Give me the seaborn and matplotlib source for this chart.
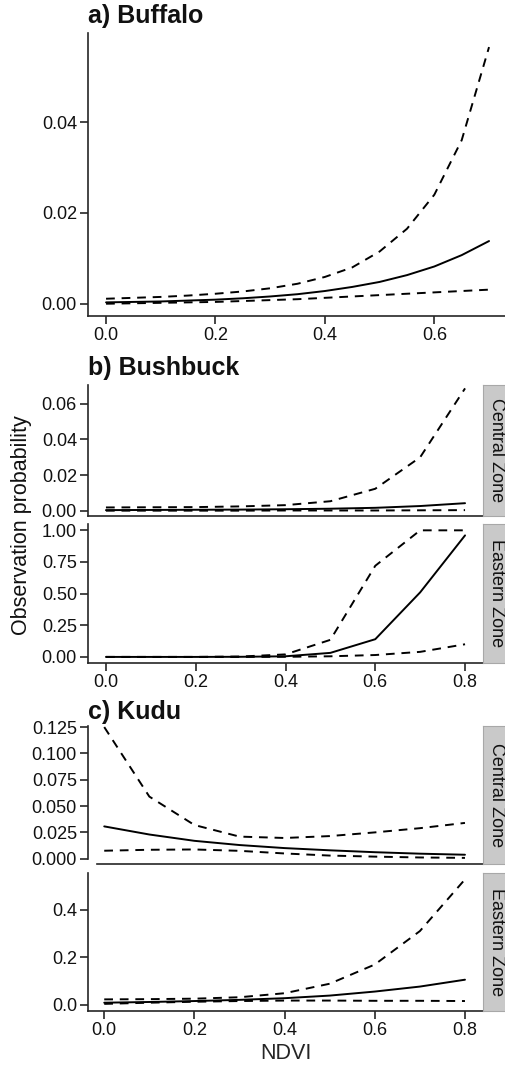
""" Observation probability against NDVI for buffalo, bushbuck and kudu """
import numpy as np
import pandas as pd
import matplotlib
matplotlib.use('Agg')
import matplotlib.pyplot as plt
import seaborn as sns

# a) Buffalo
buffalo_ndvi = [0.0, 0.05, 0.1, 0.15, 0.2, 0.25, 0.3, 0.35, 0.4, 0.45, 0.5, 0.55, 0.6, 0.65, 0.7]
buffalo_fit = [0.0003, 0.0004, 0.0005, 0.0007, 0.0009, 0.0012, 0.0016, 0.0021, 0.0028,
               0.0037, 0.0048, 0.0063, 0.0082, 0.0107, 0.0138]
buffalo_upper = [0.0011, 0.0013, 0.0015, 0.0018, 0.0022, 0.0027, 0.0034, 0.0044, 0.0059,
                 0.0080, 0.0115, 0.0165, 0.0240, 0.0360, 0.0565]
buffalo_lower = [0.0000, 0.0001, 0.0002, 0.0003, 0.0004, 0.0006, 0.0008, 0.0010, 0.0013,
                 0.0016, 0.0019, 0.0022, 0.0025, 0.0028, 0.0031]

# b) Bushbuck, central and eastern zone
bushbuck_ndvi = [0.0, 0.1, 0.2, 0.3, 0.4, 0.5, 0.6, 0.7, 0.8]
bushbuck_central_fit = [0.0003, 0.0004, 0.0005, 0.0006, 0.0008, 0.0011, 0.0016, 0.0026, 0.0042]
bushbuck_central_upper = [0.0018, 0.0019, 0.0020, 0.0024, 0.0031, 0.0053, 0.0123, 0.0300, 0.0687]
bushbuck_central_lower = [0.0000, 0.0000, 0.0000, 0.0000, 0.0001, 0.0001, 0.0001, 0.0002, 0.0003]
bushbuck_eastern_fit = [0.0, 0.0, 0.0, 0.001, 0.005, 0.032, 0.14, 0.51, 0.96]
bushbuck_eastern_upper = [0.0, 0.0, 0.0, 0.003, 0.02, 0.135, 0.72, 1.0, 1.0]
bushbuck_eastern_lower = [0.0, 0.0, 0.0, 0.0, 0.001, 0.005, 0.015, 0.04, 0.10]

# c) Kudu, central and eastern zone
kudu_ndvi = [0.0, 0.1, 0.2, 0.3, 0.4, 0.5, 0.6, 0.7, 0.8]
kudu_central_fit = [0.0307, 0.0230, 0.0170, 0.0130, 0.0101, 0.0080, 0.0062, 0.0048, 0.0038]
kudu_central_upper = [0.125, 0.059, 0.032, 0.021, 0.0197, 0.0215, 0.025, 0.029, 0.034]
kudu_central_lower = [0.0076, 0.0085, 0.0088, 0.0075, 0.0050, 0.0030, 0.0020, 0.0012, 0.0008]
kudu_eastern_fit = [0.008, 0.011, 0.015, 0.020, 0.027, 0.038, 0.055, 0.076, 0.105]
kudu_eastern_upper = [0.022, 0.023, 0.025, 0.031, 0.048, 0.088, 0.169, 0.31, 0.528]
kudu_eastern_lower = [0.003, 0.008, 0.012, 0.015, 0.017, 0.017, 0.016, 0.016, 0.015]

W, H = 505, 1071
FONT = ['Liberation Sans', 'DejaVu Sans']
sns.set_style('ticks')
plt.rcParams['font.family'] = FONT
plt.rcParams['axes.linewidth'] = 1.2
plt.rcParams['xtick.major.width'] = 1.2
plt.rcParams['ytick.major.width'] = 1.2
plt.rcParams['xtick.major.size'] = 5.5
plt.rcParams['ytick.major.size'] = 5.5
plt.rcParams['xtick.major.pad'] = 2.5
plt.rcParams['ytick.major.pad'] = 2.5
plt.rcParams['xtick.labelsize'] = 13
plt.rcParams['ytick.labelsize'] = 13
plt.rcParams['text.color'] = '#111111'
plt.rcParams['xtick.labelcolor'] = '#111111'
plt.rcParams['ytick.labelcolor'] = '#111111'

fig = plt.figure(figsize=(W / 100, H / 100), dpi=100)


def box(left, top, right, bottom):
    """ Pixel box to figure fraction """
    return [left / W, 1 - bottom / H, (right - left) / W, (bottom - top) / H]


def draw(ax, x, fit, upper, lower):
    df = pd.DataFrame({'NDVI': x, 'fit': fit, 'upper': upper, 'lower': lower})
    sns.lineplot(data=df, x='NDVI', y='fit', ax=ax, color='black', lw=1.4)
    for col in ['upper', 'lower']:
        sns.lineplot(data=df, x='NDVI', y=col, ax=ax, color='black', lw=1.4)
        ax.lines[-1].set_dashes((4.5, 3.5))
    ax.set_xlabel('')
    ax.set_ylabel('')
    sns.despine(ax=ax)


def strip(top, bottom, label):
    sax = fig.add_axes(box(483, top, 507, bottom))
    sax.set_facecolor('#c9c9c9')
    for s in sax.spines.values():
        s.set_visible(True)
        s.set_color('#a8a8a8')
        s.set_linewidth(0.8)
    sax.set_xticks([])
    sax.set_yticks([])
    sax.text(0.55, 0.5, label, rotation=-90, ha='center', va='center',
             fontsize=13, transform=sax.transAxes)


# a) Buffalo
ax = fig.add_axes(box(88, 33, 506, 316))
draw(ax, buffalo_ndvi, buffalo_fit, buffalo_upper, buffalo_lower)
ax.set_xlim(-0.033, 0.731)
ax.set_ylim(-0.0027, 0.0596)
ax.set_xticks([0.0, 0.2, 0.4, 0.6])
ax.set_yticks([0.0, 0.02, 0.04])
ax.set_yticklabels(['0.00', '0.02', '0.04'])
fig.text(88 / W, 1 - 16 / H, 'a) Buffalo', fontsize=18, fontweight='bold',
         va='center', ha='left')

# b) Bushbuck
ax = fig.add_axes(box(88, 385, 483, 516))
draw(ax, bushbuck_ndvi, bushbuck_central_fit, bushbuck_central_upper, bushbuck_central_lower)
ax.set_xlim(-0.04, 0.84)
ax.set_ylim(-0.0030, 0.0706)
ax.set_xticks([])
ax.set_yticks([0.0, 0.02, 0.04, 0.06])
ax.set_yticklabels(['0.00', '0.02', '0.04', '0.06'])
strip(385, 516, 'Central Zone')

ax = fig.add_axes(box(88, 524, 483, 663))
draw(ax, bushbuck_ndvi, bushbuck_eastern_fit, bushbuck_eastern_upper, bushbuck_eastern_lower)
ax.set_xlim(-0.04, 0.84)
ax.set_ylim(-0.048, 1.05)
ax.set_xticks([0.0, 0.2, 0.4, 0.6, 0.8])
ax.set_yticks([0.0, 0.25, 0.5, 0.75, 1.0])
ax.set_yticklabels(['0.00', '0.25', '0.50', '0.75', '1.00'])
strip(524, 663, 'Eastern Zone')
fig.text(88 / W, 1 - 368 / H, 'b) Bushbuck', fontsize=18, fontweight='bold',
         va='center', ha='left')
fig.text(22 / W, 1 - 525 / H, 'Observation probability', fontsize=15.5,
         rotation=90, ha='center', va='center')

# c) Kudu
ax = fig.add_axes(box(88, 726, 483, 864))
draw(ax, kudu_ndvi, kudu_central_fit, kudu_central_upper, kudu_central_lower)
ax.set_xlim(-0.036, 0.84)
ax.set_ylim(-0.005, 0.126)
ax.set_xticks([])
ax.set_yticks([0.0, 0.025, 0.05, 0.075, 0.1, 0.125])
ax.set_yticklabels(['0.000', '0.025', '0.050', '0.075', '0.100', '0.125'])
ax.spines['bottom'].set_bounds(-0.015, 0.84)
ax.spines['left'].set_bounds(0.0, 0.126)
strip(726, 864, 'Central Zone')

ax = fig.add_axes(box(88, 873, 483, 1011))
draw(ax, kudu_ndvi, kudu_eastern_fit, kudu_eastern_upper, kudu_eastern_lower)
ax.set_xlim(-0.036, 0.84)
ax.set_ylim(-0.027, 0.555)
ax.set_xticks([0.0, 0.2, 0.4, 0.6, 0.8])
ax.set_yticks([0.0, 0.2, 0.4])
ax.set_xlabel('NDVI', fontsize=15.5, labelpad=3)
strip(873, 1011, 'Eastern Zone')
fig.text(88 / W, 1 - 712 / H, 'c) Kudu', fontsize=18, fontweight='bold',
         va='center', ha='left')

fig.savefig('out.png', dpi=100)
